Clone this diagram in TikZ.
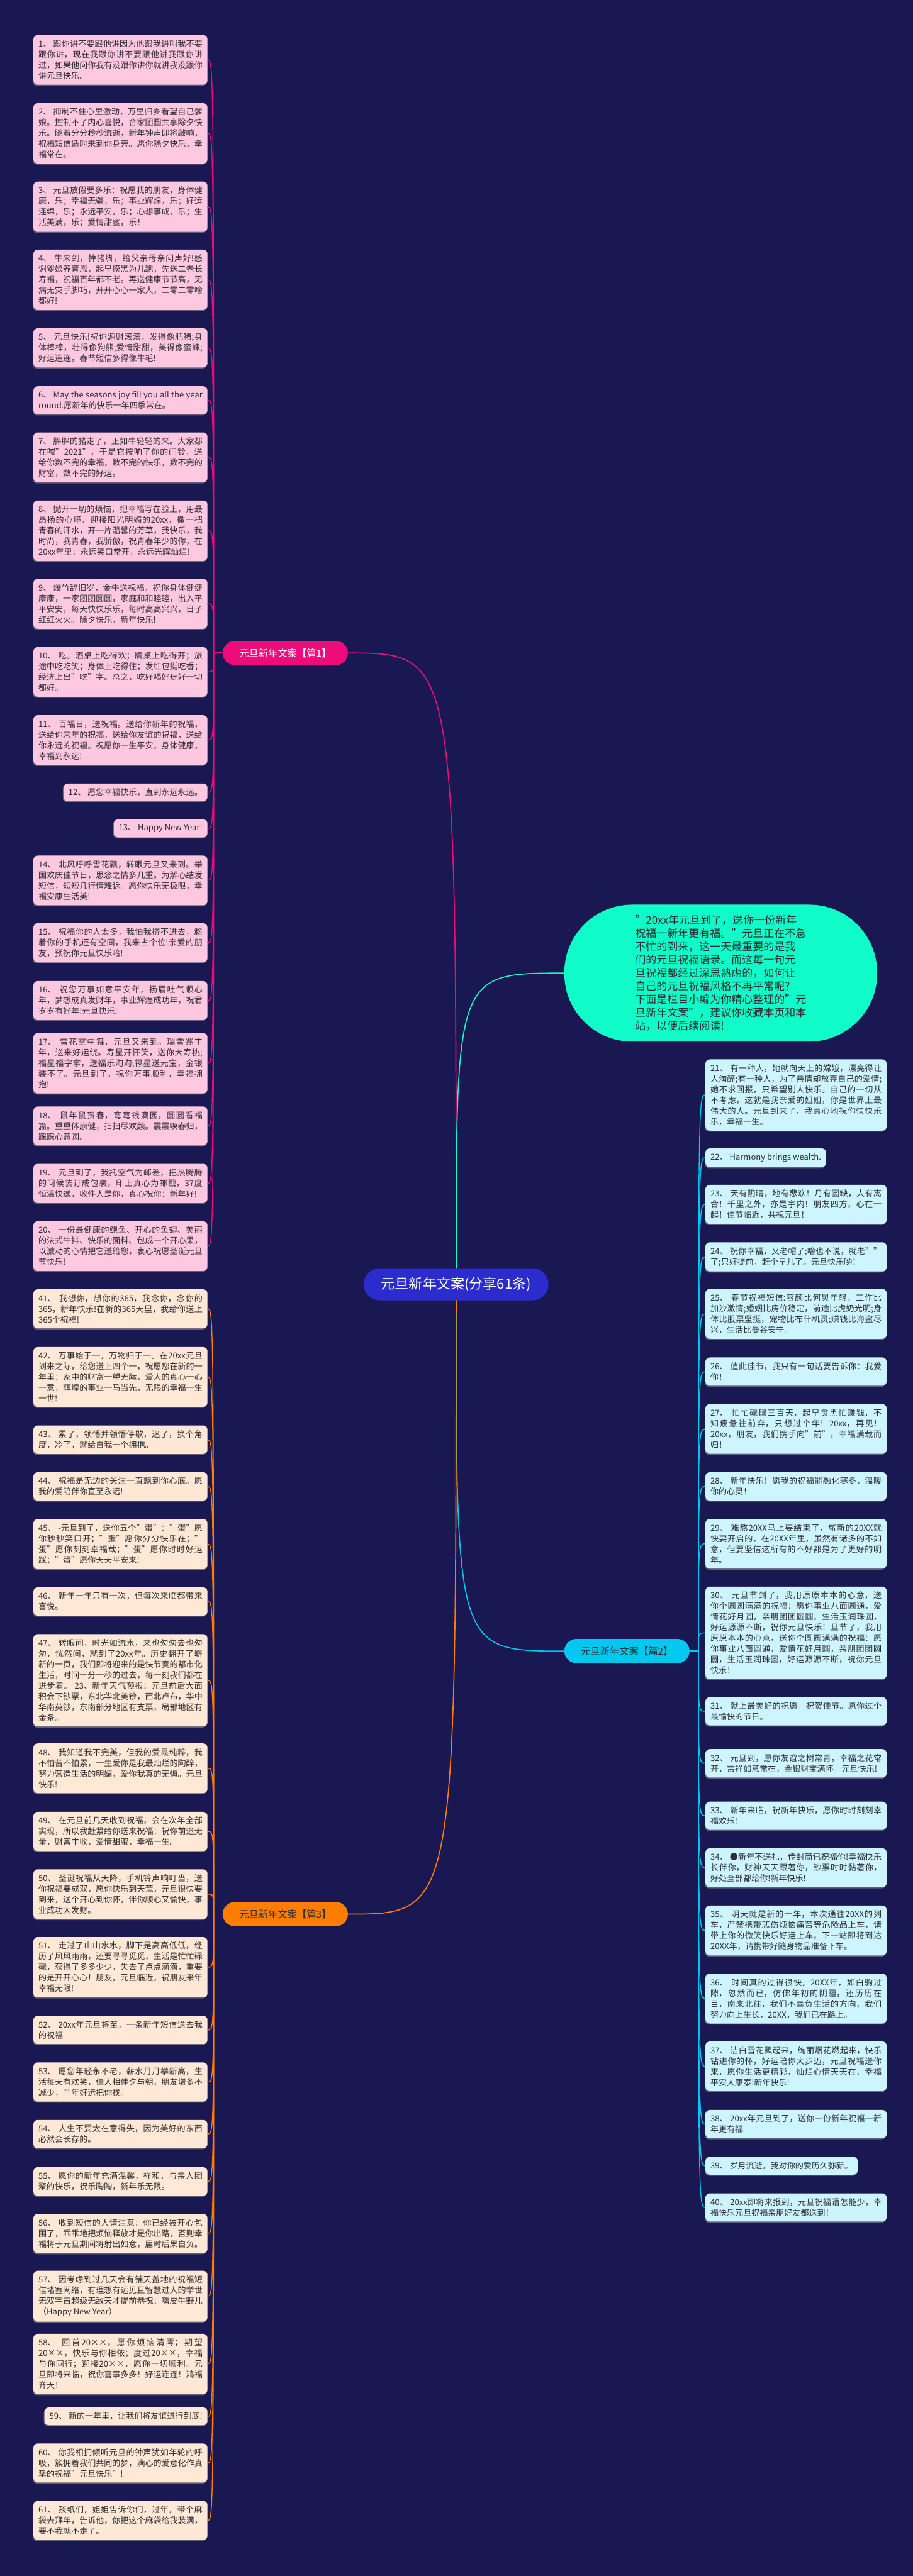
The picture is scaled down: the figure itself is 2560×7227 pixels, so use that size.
\documentclass[tikz,border=0pt]{standalone}
\usepackage{fontspec}
\setmainfont{Noto Sans CJK SC}
\XeTeXlinebreaklocale "zh"
\XeTeXlinebreakskip=0pt plus 1pt
\definecolor{bgnavy}{RGB}{26,24,82}
\definecolor{rootblue}{RGB}{44,44,204}
\definecolor{pinkc}{RGB}{238,12,122}
\definecolor{cyanc}{RGB}{0,200,240}
\definecolor{orangec}{RGB}{255,125,0}
\definecolor{mintc}{RGB}{16,252,200}
\definecolor{pinkpale}{RGB}{255,200,225}
\definecolor{orangepale}{RGB}{255,232,213}
\definecolor{cyanpale}{RGB}{205,245,255}
\definecolor{leafink}{RGB}{45,45,50}
\definecolor{leafshade}{RGB}{95,95,120}
\newcommand{\leaffont}{\fontsize{23}{30}\selectfont}
\newcommand{\branchfont}{\fontsize{27}{32}\selectfont}
\newcommand{\rootfont}{\fontsize{39}{44}\selectfont}
\newcommand{\introfont}{\fontsize{30}{37}\selectfont}
\usetikzlibrary{positioning}
\begin{document}
\begin{tikzpicture}[x=1pt,y=-1pt,
  leaf/.style={rounded corners=12pt,inner xsep=14pt,inner ysep=14pt,font=\leaffont,text=leafink,
    preaction={fill=leafshade,transform canvas={xshift=-2pt,yshift=-3pt}}},
  wrap/.style={text width=460pt,align=justify},
  wrapr/.style={text width=480pt,align=justify},
  pinkleaf/.style={leaf,fill=pinkpale,anchor=east},
  orangeleaf/.style={leaf,fill=orangepale,anchor=east},
  cyanleaf/.style={leaf,fill=cyanpale,anchor=west},
  branch/.style={rounded corners=34pt,minimum width=351pt,minimum height=68pt,font=\branchfont},
  link/.style={line width=3pt},
  twig/.style={line width=2.5pt}]
\fill[bgnavy] (0,0) rectangle (2560,7227);
\useasboundingbox (0,0) rectangle (2560,7227);

\node[fill=rootblue,text=white,rounded corners=45pt,minimum width=518pt,minimum height=90pt,font=\rootfont] (root) at (1279,3603) {元旦新年文案(分享61条)};
\node[fill=mintc,text=leafink,rounded corners=190pt,minimum width=877pt,minimum height=384pt,align=left,font=\introfont] (intro) at (2021,2730) {"20xx年元旦到了，送你一份新年\\祝福一新年更有福。"元旦正在不急\\不忙的到来，这一天最重要的是我\\们的元旦祝福语录。而这每一句元\\旦祝福都经过深思熟虑的，如何让\\自己的元旦祝福风格不再平常呢?\\下面是栏目小编为你精心整理的"元\\旦新年文案"，建议你收藏本页和本\\站，以便后续阅读!};
\node[branch,fill=pinkc,text=white] (p1) at (800,1832) {元旦新年文案【篇1】};
\node[branch,fill=cyanc,text=leafink] (p2) at (1758,4632) {元旦新年文案【篇2】};
\node[branch,fill=orangec,text=leafink] (p3) at (800,5370) {元旦新年文案【篇3】};
\coordinate (j1) at (599,1832);
\coordinate (j2) at (1958,4632);
\coordinate (j3) at (599,5370);

\node[pinkleaf,wrap] (l1) at (582,168) {1、 跟你讲不要跟他讲因为他跟我讲叫我不要跟你讲，现在我跟你讲不要跟他讲我跟你讲过，如果他问你我有没跟你讲你就讲我没跟你讲元旦快乐。};
\node[pinkleaf,wrap] (l2) at (582,374) {2、 抑制不住心里激动，万里归乡看望自己爹娘。控制不了内心喜悦，合家团圆共享除夕快乐。随着分分秒秒流逝，新年钟声即将敲响，祝福短信适时来到你身旁。愿你除夕快乐，幸福常在。};
\node[pinkleaf,wrap] (l3) at (582,580) {3、 元旦放假要多乐：祝愿我的朋友，身体健康，乐；幸福无疆，乐；事业辉煌，乐；好运连绵，乐；永远平安，乐；心想事成，乐；生活美满，乐；爱情甜蜜，乐！};
\node[pinkleaf,wrap] (l4) at (582,785) {4、 牛来到，捧猪脚，给父亲母亲问声好!感谢爹娘养育恩，起早摸黑为儿跑，先送二老长寿福，祝福百年都不老。再送健康节节高，无病无灾手脚巧，开开心心一家人，二零二零啥都好!};
\node[pinkleaf,wrap] (l5) at (582,976) {5、 元旦快乐!祝你源财滚滚，发得像肥猪;身体棒棒，壮得像狗熊;爱情甜甜，美得像蜜蜂;好运连连，春节短信多得像牛毛!};
\node[pinkleaf,wrap] (l6) at (582,1123) {6、 May the seasons joy fill you all the year round.愿新年的快乐一年四季常在。};
\node[pinkleaf,wrap] (l7) at (582,1283) {7、 胖胖的猪走了，正如牛轻轻的来。大家都在喊"2021"，于是它按响了你的门铃，送给你数不完的幸福，数不完的快乐，数不完的财富，数不完的好运。};
\node[pinkleaf,wrap] (l8) at (582,1489) {8、 抛开一切的烦恼，把幸福写在脸上，用最昂扬的心境，迎接阳光明媚的20xx，撒一把青春的汗水，开一片温馨的芳草，我快乐，我时尚，我青春，我骄傲，祝青春年少的你，在20xx年里：永远笑口常开，永远光辉灿烂!};
\node[pinkleaf,wrap] (l9) at (582,1694) {9、 爆竹辞旧岁，金牛送祝福，祝你身体健健康康，一家团团圆圆，家庭和和睦睦，出入平平安安，每天快快乐乐，每时高高兴兴，日子红红火火。除夕快乐，新年快乐!};
\node[pinkleaf,wrap] (l10) at (582,1885) {10、 吃。酒桌上吃得欢；牌桌上吃得开；旅途中吃吃笑；身体上吃得住；发红包挺吃香；经济上出"吃"字。总之，吃好喝好玩好一切都好。};
\node[pinkleaf,wrap] (l11) at (582,2076) {11、 百福日，送祝福。送给你新年的祝福，送给你来年的祝福，送给你友谊的祝福，送给你永远的祝福。祝愿你一生平安，身体健康，幸福到永远!};
\node[pinkleaf] (l12) at (582,2223) {12、 愿您幸福快乐，直到永远永远。};
\node[pinkleaf] (l13) at (582,2324) {13、 Happy New Year!};
\node[pinkleaf,wrap] (l14) at (582,2470) {14、 北风呼呼雪花飘，转眼元旦又来到。举国欢庆佳节日，思念之情多几重。为解心结发短信，短短几行情难诉。愿你快乐无极限，幸福安康生活美!};
\node[pinkleaf,wrap] (l15) at (582,2645) {15、 祝福你的人太多，我怕我挤不进去，趁着你的手机还有空间，我来占个位!亲爱的朋友，预祝你元旦快乐哈!};
\node[pinkleaf,wrap] (l16) at (582,2807) {16、 祝您万事如意平安年，扬眉吐气顺心年，梦想成真发财年，事业辉煌成功年，祝君岁岁有好年!元旦快乐!};
\node[pinkleaf,wrap] (l17) at (582,2983) {17、 雪花空中舞，元旦又来到。瑞雪兆丰年，送来好运绕。寿星开怀笑，送你大寿桃;福星福字拿，送福乐淘淘;禄星送元宝，金银装不了。元旦到了，祝你万事顺利，幸福拥抱!};
\node[pinkleaf,wrap] (l18) at (582,3159) {18、 鼠年鼠贺春，弯弯钱满园，圆圆看福篇。重重体康健，扫扫尽欢颜。震震唤春归，踩踩心意圆。};
\node[pinkleaf,wrap] (l19) at (582,3320) {19、 元旦到了，我托空气为邮差，把热腾腾的问候装订成包裹，印上真心为邮戳，37度恒温快递，收件人是你，真心祝你：新年好!};
\node[pinkleaf,wrap] (l20) at (582,3496) {20、 一份最健康的鲍鱼、开心的鱼翅、美丽的法式牛排、快乐的面料、包成一个开心果，以激动的心情把它送给您，衷心祝愿圣诞元旦节快乐!};

\node[cyanleaf,wrapr] (l21) at (1978,3072) {21、 有一种人，她就向天上的嫦娥，漂亮得让人淘醉;有一种人，为了亲情却放弃自己的爱情;她不求回报，只希望别人快乐。自己的一切从不考虑，这就是我亲爱的姐姐，你是世界上最伟大的人。元旦到来了，我真心地祝你快快乐乐，幸福一生。};
\node[cyanleaf] (l22) at (1978,3248) {22、 Harmony brings wealth.};
\node[cyanleaf,wrapr] (l23) at (1978,3379) {23、 天有阴晴，地有悲欢！月有圆缺，人有离合！千里之外，亦是宇内！朋友四方，心在一起！佳节临近，共祝元旦！};
\node[cyanleaf,wrapr] (l24) at (1978,3526) {24、 祝你幸福，又老帽了;啥也不说，就老""了;只好提前，赶个早儿了。元旦快乐哟！};
\node[cyanleaf,wrapr] (l25) at (1978,3686) {25、 春节祝福短信:容颜比何炅年轻，工作比加沙激情;婚姻比房价稳定，前途比虎奶光明;身体比股票坚挺，宠物比布什机灵;赚钱比海盗尽兴，生活比曼谷安宁。};
\node[cyanleaf,wrapr] (l26) at (1978,3848) {26、 值此佳节，我只有一句话要告诉你：我爱你！};
\node[cyanleaf,wrapr] (l27) at (1978,4009) {27、 忙忙碌碌三百天，起早贪黑忙赚钱，不知疲惫往前奔，只想过个年！20xx，再见！20xx，朋友，我们携手向"前"，幸福满载而归！};
\node[cyanleaf,wrapr] (l28) at (1978,4170) {28、 新年快乐！愿我的祝福能融化寒冬，温暖你的心灵！};
\node[cyanleaf,wrapr] (l29) at (1978,4331) {29、 难熬20XX马上要结束了，崭新的20XX就快要开启的，在20XX年里，虽然有诸多的不如意，但要坚信这所有的不好都是为了更好的明年。};
\node[cyanleaf,wrapr] (l30) at (1978,4581) {30、 元旦节到了，我用原原本本的心意，送你个圆圆满满的祝福：愿你事业八面圆通，爱情花好月圆，亲朋团团圆圆，生活玉润珠圆，好运源源不断，祝你元旦快乐！旦节了，我用原原本本的心意，送你个圆圆满满的祝福：愿你事业八面圆通，爱情花好月圆，亲朋团团圆圆，生活玉润珠圆，好运源源不断，祝你元旦快乐！};
\node[cyanleaf,wrapr] (l31) at (1978,4801) {31、 献上最美好的祝愿。祝贺佳节。愿你过个最愉快的节日。};
\node[cyanleaf,wrapr] (l32) at (1978,4947) {32、 元旦到，愿你友谊之树常青，幸福之花常开，吉祥如意常在，金银财宝满怀。元旦快乐!};
\node[cyanleaf,wrapr] (l33) at (1978,5094) {33、 新年来临，祝新年快乐，愿你时时刻刻幸福欢乐！};
\node[cyanleaf,wrapr] (l34) at (1978,5240) {34、 ●新年不送礼，传封简讯祝福你!幸福快乐长伴你，财神天天跟著你，钞票时时黏著你，好处全部都给你!新年快乐!};
\node[cyanleaf,wrapr] (l35) at (1978,5416) {35、 明天就是新的一年，本次通往20XX的列车，严禁携带悲伤烦恼痛苦等危险品上车，请带上你的微笑快乐好运上车，下一站即将到达20XX年，请携带好随身物品准备下车。};
\node[cyanleaf,wrapr] (l36) at (1978,5607) {36、 时间真的过得很快，20XX年，如白驹过隙，忽然而已，仿佛年初的阴霾，还历历在目，南来北往，我们不辜负生活的方向，我们努力向上生长，20XX，我们已在路上。};
\node[cyanleaf,wrapr] (l37) at (1978,5797) {37、 洁白雪花飘起来，绚丽烟花燃起来，快乐钻进你的怀，好运陪你大步迈，元旦祝福送你来，愿你生活更精彩，灿烂心情天天在，幸福平安人康泰!新年快乐!};
\node[cyanleaf,wrapr] (l38) at (1978,5959) {38、 20xx年元旦到了，送你一份新年祝福一新年更有福};
\node[cyanleaf] (l39) at (1978,6076) {39、 岁月流逝，我对你的爱历久弥新。};
\node[cyanleaf,wrapr] (l40) at (1978,6193) {40、 20xx即将来报到，元旦祝福语怎能少，幸福快乐元旦祝福亲朋好友都送到！};

\node[orangeleaf,wrap] (l41) at (582,3672) {41、 我想你，想你的365，我念你，念你的365，新年快乐!在新的365天里，我给你送上365个祝福!};
\node[orangeleaf,wrap] (l42) at (582,3863) {42、 万事始于一，万物归于一。在20xx元旦到来之际，给您送上四个一，祝愿您在新的一年里：家中的财富一望无际，爱人的真心一心一意，辉煌的事业一马当先，无限的幸福一生一世!};
\node[orangeleaf,wrap] (l43) at (582,4039) {43、 累了，领悟并领悟停歇，迷了，换个角度，冷了，就给自我一个拥抱。};
\node[orangeleaf,wrap] (l44) at (582,4170) {44、 祝福是无边的关注一直飘到你心底。愿我的爱陪伴你直至永远!};
\node[orangeleaf,wrap] (l45) at (582,4332) {45、 -元旦到了，送你五个"蛋"："蛋"愿你秒秒笑口开；"蛋"愿你分分快乐在；"蛋"愿你刻刻幸福载；"蛋"愿你时时好运踩；"蛋"愿你天天平安来!};
\node[orangeleaf,wrap] (l46) at (582,4493) {46、 新年一年只有一次，但每次来临都带来喜悦。};
\node[orangeleaf,wrap] (l47) at (582,4714) {47、 转眼间，时光如流水，来也匆匆去也匆匆，恍然间，就到了20xx年。历史翻开了崭新的一页，我们即将迎来的是快节奏的都市化生活，时间一分一秒的过去，每一刻我们都在进步着。 23、新年天气预报：元旦前后大面积会下钞票，东北华北美钞，西北卢布，华中华南英钞，东南部分地区有支票，局部地区有金条。};
\node[orangeleaf,wrap] (l48) at (582,4961) {48、 我知道我不完美，但我的爱最纯粹，我不怕苦不怕累，一生爱你是我最灿烂的陶醉，努力营造生活的明媚，爱你我真的无悔。元旦快乐!};
\node[orangeleaf,wrap] (l49) at (582,5138) {49、 在元旦前几天收到祝福，会在次年全部实现，所以我赶紧给你送来祝福：祝你前途无量，财富丰收，爱情甜蜜，幸福一生。};
\node[orangeleaf,wrap] (l50) at (582,5314) {50、 圣诞祝福从天降，手机铃声响叮当，送你祝福要成双，愿你快乐到天荒，元旦很快要到来，送个开心到你怀，伴你顺心又愉快，事业成功大发财。};
\node[orangeleaf,wrap] (l51) at (582,5519) {51、 走过了山山水水，脚下是高高低低，经历了风风雨雨，还要寻寻觅觅，生活是忙忙碌碌，获得了多多少少，失去了点点滴滴，重要的是开开心心！朋友，元旦临近，祝朋友来年幸福无限!};
\node[orangeleaf,wrap] (l52) at (582,5695) {52、 20xx年元旦将至，一条新年短信送去我的祝福};
\node[orangeleaf,wrap] (l53) at (582,5841) {53、 愿您年轻永不老，薪水月月攀新高，生活每天有欢笑，佳人相伴夕与朝，朋友增多不减少，羊年好运把你找。};
\node[orangeleaf,wrap] (l54) at (582,5987) {54、 人生不要太在意得失，因为美好的东西必然会长存的。};
\node[orangeleaf,wrap] (l55) at (582,6120) {55、 愿你的新年充满温馨，祥和，与亲人团聚的快乐，祝乐陶陶，新年乐无限。};
\node[orangeleaf,wrap] (l56) at (582,6266) {56、 收到短信的人请注意：你已经被开心包围了，乖乖地把烦恼释放才是你出路，否则幸福将于元旦期间将射出如意，届时后果自负。};
\node[orangeleaf,wrap] (l57) at (582,6442) {57、 因考虑到过几天会有铺天盖地的祝福短信堵塞网络，有理想有远见且智慧过人的举世无双宇宙超级无敌天才提前恭祝：嗨皮牛野儿（Happy New Year）};
\node[orangeleaf,wrap] (l58) at (582,6632) {58、 回首20××，愿你烦恼清零；期望20××，快乐与你相依；度过20××，幸福与你同行；迎接20××，愿你一切顺利。元旦即将来临，祝你喜事多多！好运连连！鸿福齐天！};
\node[orangeleaf] (l59) at (582,6779) {59、 新的一年里，让我们将友谊进行到底!};
\node[orangeleaf,wrap] (l60) at (582,6910) {60、 你我相拥倾听元旦的钟声犹如年轮的呼吸，簇拥着我们共同的梦，满心的爱意化作真挚的祝福"元旦快乐"!};
\node[orangeleaf,wrap] (l61) at (582,7071) {61、 孩纸们，姐姐告诉你们，过年，带个麻袋去拜年，告诉他，你把这个麻袋给我装满，要不我就不走了。};

\draw[link,pinkc] (root.north) .. controls (root.north |- p1.east) .. (p1.east);
\draw[link,mintc] (root.north) .. controls (root.north |- intro.west) .. (intro.west);
\draw[link,cyanc] (root.south) .. controls (root.south |- p2.west) .. (p2.west);
\draw[link,orangec] (root.south) .. controls (root.south |- p3.east) .. (p3.east);
\draw[link,pinkc] (p1.west) -- (j1);
\draw[link,cyanc] (p2.east) -- (j2);
\draw[link,orangec] (p3.west) -- (j3);
\foreach \n in {1,...,20}
	\draw[twig,pinkc] (j1) .. controls (j1 |- l\n.east) .. (l\n.east);
\foreach \n in {21,...,40}
	\draw[twig,cyanc] (j2) .. controls (j2 |- l\n.west) .. (l\n.west);
\foreach \n in {41,...,61}
	\draw[twig,orangec] (j3) .. controls (j3 |- l\n.east) .. (l\n.east);
\end{tikzpicture}
\end{document}
